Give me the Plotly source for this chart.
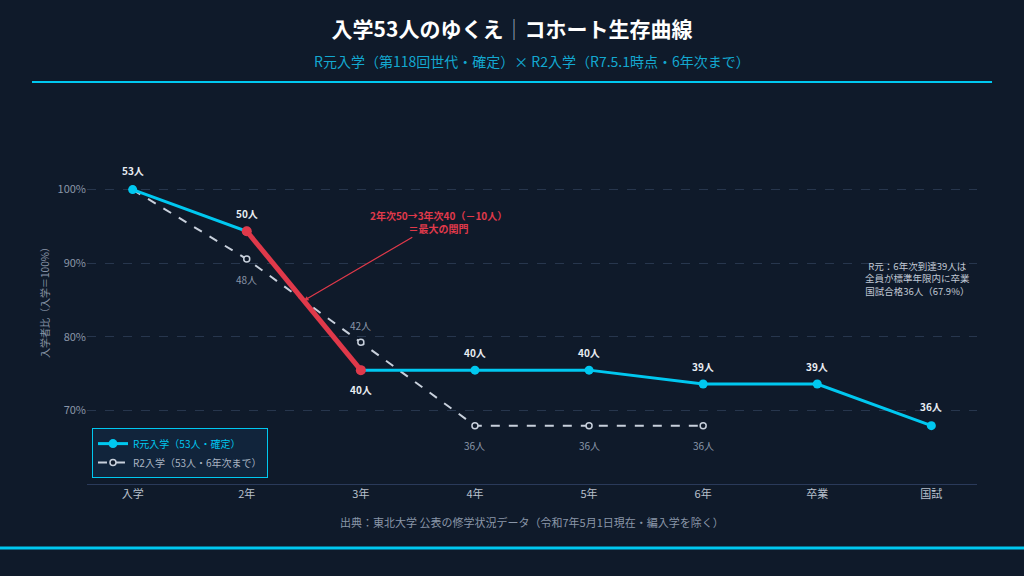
import plotly.graph_objects as go

# data
stages = ["入学", "2年", "3年", "4年", "5年", "6年", "卒業", "国試"]
r1_counts = [53, 50, 40, 40, 40, 39, 39, 36]
r2_counts = [53, 48, 42, 36, 36, 36]
base = 53
r1_label_shift = [19, 18, -19, 18, 18, 18, 18, 19]
r2_label_shift = [0, -20, 17, -20, -20, -20]
y_ticks = [70, 80, 90, 100]

r1_pct = [c / base * 100 for c in r1_counts]
r2_pct = [c / base * 100 for c in r2_counts]

BG = "#0f1a2a"
CYAN = "#00c8f0"
RED = "#e0394a"
GRAY = "#c8d0dc"
FONT = "Noto Sans CJK JP"

fig = go.Figure()

fig.add_trace(go.Scatter(
    x=stages[:len(r2_pct)], y=r2_pct, mode="lines+markers",
    name="<span style='color:#aab4c2'>R2入学（53人・6年次まで）</span>",
    line=dict(color=GRAY, width=2, dash="dash"),
    marker=dict(size=6, color=BG, line=dict(color=GRAY, width=1.5)),
))
fig.add_trace(go.Scatter(
    x=stages, y=r1_pct, mode="lines+markers",
    name="<span style='color:#00c8f0'>R元入学（53人・確定）</span>",
    line=dict(color=CYAN, width=3),
    marker=dict(size=9, color=CYAN),
))
# biggest drop: 2年 -> 3年
fig.add_trace(go.Scatter(
    x=stages[1:3], y=r1_pct[1:3], mode="lines+markers",
    line=dict(color=RED, width=5), marker=dict(size=10, color=RED),
    showlegend=False,
))

annotations = []
for s, p, c, sh in zip(stages, r1_pct, r1_counts, r1_label_shift):
    annotations.append(dict(x=s, y=p, text=f"<b>{c}人</b>", showarrow=False,
                            yshift=sh, font=dict(size=10, color="#e8edf3")))
for s, p, c, sh in zip(stages[1:], r2_pct[1:], r2_counts[1:], r2_label_shift[1:]):
    annotations.append(dict(x=s, y=p, text=f"{c}人", showarrow=False,
                            yshift=sh, font=dict(size=10, color="#8a96a8")))

annotations += [
    dict(x=1.5, y=(r1_pct[1] + r1_pct[2]) / 2, xref="x", yref="y",
         text="<b>2年次50→3年次40（－10人）<br>＝最大の関門</b>",
         showarrow=True, arrowhead=2, arrowsize=0.8, arrowwidth=1.2, arrowcolor=RED,
         ax=135, ay=-79, font=dict(size=10, color=RED)),
    dict(x=6.88, y=87.9, xref="x", yref="y", showarrow=False, align="center",
         text="R元：6年次到達39人は<br>全員が標準年限内に卒業<br>国試合格36人（67.9%）",
         font=dict(size=9.5, color="#c0c8d4")),
    dict(x=0.5, y=1.149, xref="paper", yref="paper", showarrow=False, yanchor="middle",
         text="R元入学（第118回世代・確定）× R2入学（R7.5.1時点・6年次まで）",
         font=dict(size=14, color="#13a8d0")),
    dict(x=0.5, y=-0.103, xref="paper", yref="paper", showarrow=False, yanchor="middle",
         text="出典：東北大学 公表の修学状況データ（令和7年5月1日現在・編入学を除く）",
         font=dict(size=11, color="#8a96a8")),
]

fig.update_layout(
    width=1024, height=576,
    paper_bgcolor=BG, plot_bgcolor=BG,
    font=dict(family=FONT, color="#c0c8d4"),
    margin=dict(l=87, r=47, t=116, b=92),
    title=dict(text="<b>入学53人のゆくえ<span style='color:#8a96a8'>｜</span>コホート生存曲線</b>",
               x=0.5, xanchor="center", y=0.948, yanchor="middle",
               font=dict(size=21, color="#ffffff")),
    annotations=annotations,
    shapes=[
        dict(type="line", xref="paper", yref="paper", x0=-0.0618, x1=1.0169,
             y0=1.0924, y1=1.0924, line=dict(color=CYAN, width=2)),
        dict(type="line", xref="paper", yref="paper", x0=-0.1, x1=1.06,
             y0=-0.174, y1=-0.174, line=dict(color=CYAN, width=3)),
    ],
    legend=dict(x=0.0056, y=0.016, xanchor="left", yanchor="bottom",
                bgcolor="#11243b", bordercolor=CYAN, borderwidth=1,
                traceorder="reversed", font=dict(size=10), itemwidth=30,
                tracegroupgap=0),
    xaxis=dict(range=[-0.4, 7.4], showgrid=False, showline=True, linecolor="#2a3a5a",
               tickfont=dict(size=11, color="#b8c0cc"), ticks="", zeroline=False),
    yaxis=dict(range=[60, 110], tickvals=y_ticks, ticktext=[f"{v}%" for v in y_ticks],
               gridcolor="#27364d", griddash="dash", zeroline=False,
               tickfont=dict(size=11, color="#8a96a8"),
               title=dict(text="入学者比（入学＝100%）", font=dict(size=10, color="#8a96a8"),
                          standoff=6)),
)

fig.write_html("out.html", config={"displayModeBar": False},
               post_script="document.body.style.margin='0';document.body.style.background='#0f1a2a';")
